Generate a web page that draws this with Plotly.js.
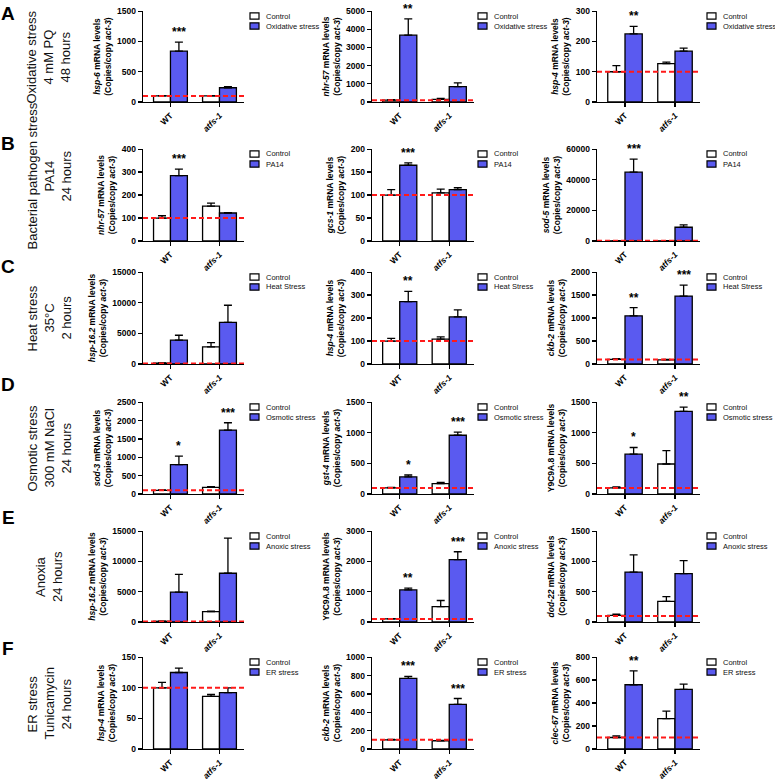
<!DOCTYPE html>
<html><head><meta charset="utf-8">
<script src="https://cdn.plot.ly/plotly-3.0.1.min.js"></script>
<style>html,body{margin:0;padding:0;background:#fff}#chart{width:775px;height:782px}</style>
</head><body><div id="chart"></div>
<script>
const W = 775, H = 782;
const groups = ['WT', 'atfs-1'];
const groupLabels = ['WT', '<i>atfs-1</i>'];
const rowLetters = ['A', 'B', 'C', 'D', 'E', 'F'];
const rowTitles = [
  ['Oxidative stress', '4 mM PQ', '48 hours'],
  ['Bacterial pathogen stress', 'PA14', '24 hours'],
  ['Heat stress', '35°C', '2 hours'],
  ['Osmotic stress', '300 mM NaCl', '24 hours'],
  ['Anoxia', '24 hours'],
  ['ER stress', 'Tunicamycin', '24 hours']
];
const stressNames = ['Oxidative stress', 'PA14', 'Heat Stress', 'Osmotic stress', 'Anoxic stress', 'ER stress'];
const genesA = ['<i>hsp-6</i>', '<i>nhr-57</i>', '<i>hsp-4</i>'];
const genesB = ['<i>nhr-57</i>', '<i>gcs-1</i>', '<i>sod-5</i>'];
const genesC = ['<i>hsp-16.2</i>', '<i>hsp-4</i>', '<i>ckb-2</i>'];
const genesD = ['<i>sod-3</i>', '<i>gst-4</i>', 'Y9C9A.8'];
const genesE = ['<i>hsp-16.2</i>', 'Y9C9A.8', '<i>dod-22</i>'];
const genesF = ['<i>hsp-4</i>', '<i>ckb-2</i>', '<i>clec-67</i>'];

// [WT, atfs-1] per panel (columns 1..3)
const ctrlA = [[100, 100], [100, 150], [100, 127]];
const ctrlErrA = [[6, 6], [30, 50], [20, 5]];
const stressA = [[840, 235], [3680, 850], [225, 168]];
const stressErrA = [[150, 20], [900, 200], [25, 10]];

const ctrlB = [[100, 152], [100, 105], [100, 100]];
const ctrlErrB = [[10, 13], [12, 8], [50, 50]];
const stressB = [[285, 122], [165, 112], [45000, 9000]];
const stressErrB = [[28, 2], [5, 4], [8500, 1500]];

const ctrlC = [[150, 2800], [100, 108], [100, 90]];
const ctrlErrC = [[50, 700], [12, 10], [15, 10]];
const stressC = [[3900, 6800], [272, 205], [1050, 1480]];
const stressErrC = [[800, 2800], [44, 31], [180, 240]];

const ctrlD = [[100, 180], [100, 170], [100, 490]];
const ctrlErrD = [[10, 20], [8, 20], [15, 220]];
const stressD = [[800, 1740], [280, 960], [650, 1350]];
const stressErrD = [[230, 200], [30, 50], [110, 70]];

const ctrlE = [[120, 1700], [100, 510], [110, 340]];
const ctrlErrE = [[40, 100], [10, 200], [20, 80]];
const stressE = [[4950, 8050], [1060, 2060], [825, 800]];
const stressErrE = [[2900, 5800], [60, 260], [285, 215]];

const ctrlF = [[100, 86], [100, 90], [100, 265]];
const ctrlErrF = [[9, 3], [5, 5], [15, 65]];
const stressF = [[125, 92], [770, 485], [560, 520]];
const stressErrF = [[7, 8], [20, 65], [120, 45]];

const starsA = [['***', ''], ['**', ''], ['**', '']];
const starsB = [['***', ''], ['***', ''], ['***', '']];
const starsC = [['', ''], ['**', ''], ['**', '***']];
const starsD = [['*', '***'], ['*', '***'], ['*', '**']];
const starsE = [['', ''], ['**', '***'], ['', '']];
const starsF = [['', ''], ['***', '***'], ['**', '']];

const yMaxA = [1500, 5000, 300], dtickA = [500, 1000, 100];
const yMaxB = [400, 200, 60000], dtickB = [100, 50, 20000];
const yMaxC = [15000, 400, 2000], dtickC = [5000, 100, 500];
const yMaxD = [2500, 1500, 1500], dtickD = [500, 500, 500];
const yMaxE = [15000, 3000, 1500], dtickE = [5000, 1000, 500];
const yMaxF = [150, 1000, 800], dtickF = [50, 200, 200];
const baseline = 100;

const genes = [genesA, genesB, genesC, genesD, genesE, genesF];
const ctrl = [ctrlA, ctrlB, ctrlC, ctrlD, ctrlE, ctrlF];
const ctrlErr = [ctrlErrA, ctrlErrB, ctrlErrC, ctrlErrD, ctrlErrE, ctrlErrF];
const stress = [stressA, stressB, stressC, stressD, stressE, stressF];
const stressErr = [stressErrA, stressErrB, stressErrC, stressErrD, stressErrE, stressErrF];
const stars = [starsA, starsB, starsC, starsD, starsE, starsF];
const yMax = [yMaxA, yMaxB, yMaxC, yMaxD, yMaxE, yMaxF];
const dticks = [dtickA, dtickB, dtickC, dtickD, dtickE, dtickF];

// layout geometry (px)
const colX = [[143, 244], [372, 474], [597, 700]];
const rowY = [[11, 102], [149, 241], [272, 364], [402, 494], [531, 622], [657, 749]];
const legX = [250, 478, 707];
const rowLabelY = [57, 176, 318, 448, 577, 704];
const letterY = [13, 143, 267, 384, 517, 648];

const BLUE = '#5a5af0';
const LW = 1.3;
const FONT = 'Arial, "Liberation Sans", sans-serif';

const data = [];
const layout = {
  width: W, height: H,
  margin: {l: 0, r: 0, t: 0, b: 0},
  paper_bgcolor: '#ffffff', plot_bgcolor: 'rgba(0,0,0,0)',
  showlegend: false,
  barmode: 'group', bargap: 0.31, bargroupgap: 0,
  font: {family: FONT, color: '#000'},
  shapes: [], annotations: []
};
const px = v => v / W;
const py = v => 1 - v / H;

for (let r = 0; r < 6; r++) {
  for (let c = 0; c < 3; c++) {
    const idx = r * 3 + c + 1;
    const sfx = idx === 1 ? '' : String(idx);
    const xa = 'x' + sfx, ya = 'y' + sfx;
    data.push({
      type: 'bar', name: 'Control', x: groups, y: ctrl[r][c], xaxis: xa, yaxis: ya,
      marker: {color: '#ffffff', line: {color: '#000', width: LW}},
      error_y: {type: 'data', symmetric: false, array: ctrlErr[r][c], arrayminus: [0, 0], color: '#000', thickness: LW, width: 4},
      hoverinfo: 'skip'
    });
    data.push({
      type: 'bar', name: stressNames[r], x: groups, y: stress[r][c], xaxis: xa, yaxis: ya,
      marker: {color: BLUE, line: {color: '#000', width: LW}},
      error_y: {type: 'data', symmetric: false, array: stressErr[r][c], arrayminus: [0, 0], color: '#000', thickness: LW, width: 4},
      hoverinfo: 'skip'
    });
    layout['xaxis' + sfx] = {
      domain: [px(colX[c][0]), px(colX[c][1])], anchor: ya, type: 'category',
      range: [-0.56, 1.5], showline: true, linecolor: '#000', linewidth: LW,
      ticks: 'outside', ticklen: 4, tickwidth: LW, tickcolor: '#000',
      tickmode: 'array', tickvals: groups, ticktext: groupLabels, tickangle: -45,
      tickfont: {size: 8.5, weight: 'bold', family: FONT}, showgrid: false, zeroline: false, fixedrange: true
    };
    layout['yaxis' + sfx] = {
      domain: [py(rowY[r][1]), py(rowY[r][0])], anchor: xa,
      range: [0, yMax[r][c] * 1.002], tickmode: 'linear', tick0: 0, dtick: dticks[r][c],
      tickformat: 'd',
      showline: true, linecolor: '#000', linewidth: LW,
      ticks: 'outside', ticklen: 4, tickwidth: LW, tickcolor: '#000',
      tickfont: {size: 8.5, weight: 'bold', family: FONT},
      showgrid: false, zeroline: false, fixedrange: true,
      title: {text: genes[r][c] + ' mRNA levels<br>(Copies/copy <i>act-3</i>)', font: {size: 8.5, weight: 'bold', family: FONT}, standoff: 4}
    };
    // baseline
    layout.shapes.push({
      type: 'line', xref: xa + ' domain', yref: ya, x0: 0, x1: 1, y0: baseline, y1: baseline,
      line: {color: '#ff1a1a', width: 2, dash: '5px,3px'}
    });
    // significance stars over stress bars
    for (let g = 0; g < 2; g++) {
      const s = stars[r][c][g];
      if (s) {
        layout.annotations.push({
          xref: xa, yref: ya, x: g + 0.1725, y: stress[r][c][g] + stressErr[r][c][g],
          text: s, showarrow: false, yanchor: 'bottom', yshift: 1,
          font: {size: 12, weight: 'bold', family: FONT}
        });
      }
    }
    // legend (custom)
    const lx = legX[c], ly = rowY[r][0] + 1;
    const names = ['Control', stressNames[r]];
    const fills = ['#ffffff', BLUE];
    for (let k = 0; k < 2; k++) {
      const yc = ly + 4 + k * 10;
      layout.shapes.push({
        type: 'rect', xref: 'paper', yref: 'paper',
        x0: px(lx), x1: px(lx + 9), y0: py(yc + 3.2), y1: py(yc - 3.2),
        fillcolor: fills[k], line: {color: '#000', width: 1.2}
      });
      layout.annotations.push({
        xref: 'paper', yref: 'paper', x: px(lx + 14), y: py(yc), xanchor: 'left', yanchor: 'middle',
        text: names[k], showarrow: false, font: {size: 7.5, family: FONT, color: '#111'}
      });
    }
  }
  // row titles (one rotated annotation per line) and letters
  const lines = rowTitles[r];
  const n = lines.length;
  for (let i = 0; i < n; i++) {
    layout.annotations.push({
      xref: 'paper', yref: 'paper', x: px(48.5 + 17 * (i - (n - 1) / 2)), y: py(rowLabelY[r]),
      xanchor: 'center', yanchor: 'middle',
      text: lines[i], textangle: -90, showarrow: false,
      font: {size: 13, family: FONT, color: '#111'}
    });
  }
  layout.annotations.push({
    xref: 'paper', yref: 'paper', x: px(8), y: py(letterY[r]), xanchor: 'center', yanchor: 'middle',
    text: rowLetters[r], showarrow: false, font: {size: 19, weight: 'bold', family: FONT, color: '#000'}
  });
}

Plotly.newPlot('chart', data, layout, {staticPlot: true, displayModeBar: false});
</script>
</body></html>
